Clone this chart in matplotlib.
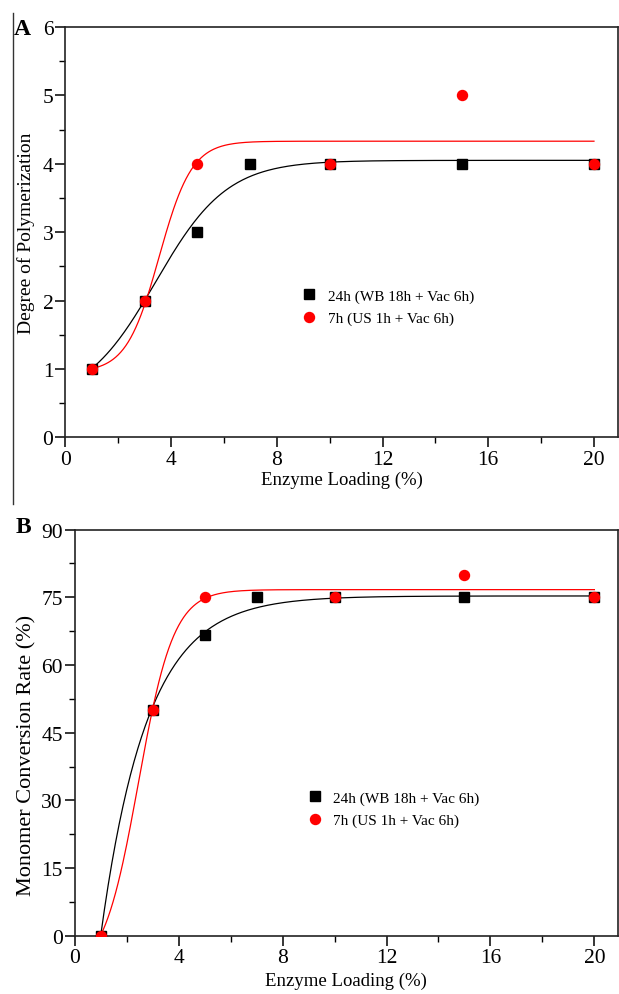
import numpy as np
import matplotlib
matplotlib.use("Agg")
import matplotlib.pyplot as plt
from matplotlib.lines import Line2D
from matplotlib.ticker import MultipleLocator

plt.rcParams['font.family'] = ['Liberation Serif', 'DejaVu Serif']

# ---- data ----
x_black = [1, 3, 5, 7, 10, 15, 20]
x_red = [1, 3, 5, 10, 15, 20]

dp_black = [1, 2, 3, 4, 4, 4, 4]
dp_red = [1, 2, 4, 4, 5, 4]

mcr_black = [0, 50, 66.67, 75, 75, 75, 75]
mcr_red = [0, 50, 75, 75, 80, 75]

label_black = "24h (WB 18h + Vac 6h)"
label_red = "7h (US 1h + Vac 6h)"

# fitted curve parameters (Boltzmann: A1, A2, x0, dx)
fit_dp_black = [0.5, 4.05, 3.42, 1.35]
fit_dp_red = [0.95, 4.33, 3.55, 0.62]
fit_mcr_red = [-9.0, 76.7, 2.45, 0.68]
# exponential association (A, x0, t)
fit_mcr_black = [75.3, 1.0, 1.0 / 0.56]


def boltz(x, p):
    a1, a2, x0, dx = p
    return a2 + (a1 - a2) / (1 + np.exp((x - x0) / dx))


def expassoc(x, p):
    a, x0, t = p
    return a * (1 - np.exp(-(x - x0) / t))


xs = np.linspace(1, 20, 400)

fig = plt.figure(figsize=(6.19, 9.95), dpi=100)

axA = fig.add_axes([0.1055, 0.5594, 0.8925, 0.4125])
axB = fig.add_axes([0.1207, 0.0586, 0.8773, 0.4081])

tick_fs = 15.5
leg_fs = 11

for ax in (axA, axB):
    ax.set_xlim(0, 20.9)
    ax.xaxis.set_major_locator(MultipleLocator(4))
    ax.xaxis.set_minor_locator(MultipleLocator(2))
    ax.tick_params(which='major', direction='out', length=7, width=1.1,
                   labelsize=tick_fs)
    ax.tick_params(axis='x', which='major', pad=2)
    ax.tick_params(axis='y', which='major', pad=1.5)
    ax.tick_params(which='minor', direction='out', length=4, width=1.0)
    for s in ax.spines.values():
        s.set_linewidth(1.2)
        s.set_color('#222222')

axA.set_xlabel("Enzyme Loading (%)", fontsize=13.5, labelpad=1)
axB.set_xlabel("Enzyme Loading (%)", fontsize=13.5, labelpad=3)

# Panel A
axA.plot(xs, boltz(xs, fit_dp_black), color='black', lw=0.9)
axA.plot(xs, boltz(xs, fit_dp_red), color='red', lw=0.9)
axA.plot(x_black, dp_black, 's', color='black', ms=6.5, label=label_black, zorder=3)
axA.plot(x_red, dp_red, 'o', color='red', ms=7.2, label=label_red, zorder=4)
axA.set_ylim(0, 6)
axA.yaxis.set_major_locator(MultipleLocator(1))
axA.yaxis.set_minor_locator(MultipleLocator(0.5))
axA.set_ylabel("Degree of Polymerization", fontsize=14)
axA.yaxis.set_label_coords(-0.054, 0.5)
axA.legend(loc='upper left', bbox_to_anchor=(0.4, 0.395), frameon=False,
           fontsize=leg_fs, handletextpad=0.6, labelspacing=0.55,
           handlelength=1.2)

# Panel B
axB.plot(xs, expassoc(xs, fit_mcr_black), color='black', lw=0.9)
axB.plot(xs, boltz(xs, fit_mcr_red), color='red', lw=0.9)
axB.plot(x_black, mcr_black, 's', color='black', ms=6.5, label=label_black, zorder=3)
axB.plot(x_red, mcr_red, 'o', color='red', ms=7.2, label=label_red, zorder=4)
axB.set_ylim(0, 90)
axB.yaxis.set_major_locator(MultipleLocator(15))
axB.yaxis.set_minor_locator(MultipleLocator(7.5))
axB.set_ylabel("Monomer Conversion Rate (%)", fontsize=16)
axB.yaxis.set_label_coords(-0.071, 0.446)
axB.legend(loc='upper left', bbox_to_anchor=(0.4, 0.39), frameon=False,
           fontsize=leg_fs, handletextpad=0.6, labelspacing=0.55,
           handlelength=1.2)

# panel letters
fig.text(0.023, 0.970, "A", fontsize=17, fontweight='bold', va='center', ha='left')
fig.text(0.025, 0.470, "B", fontsize=17, fontweight='bold', va='center', ha='left')

# left border line of panel A
fig.add_artist(Line2D([13 / 619, 13 / 619], [1 - 14 / 995, 1 - 505 / 995],
                      transform=fig.transFigure, color='#333333', lw=1.0))

fig.savefig("out.png", dpi=100)
